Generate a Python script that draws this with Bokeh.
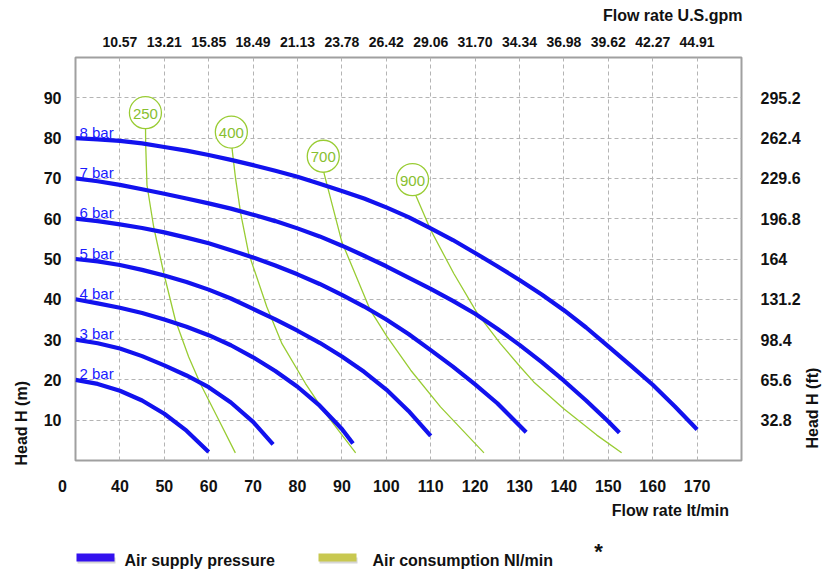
from bokeh.plotting import figure
from bokeh.layouts import column
from bokeh.models import Range1d, LinearAxis, FixedTicker, Label
from bokeh.core.properties import value
from bokeh.embed import file_html
from bokeh.resources import INLINE

# ---------------- data ----------------
flow_ticks = [40, 50, 60, 70, 80, 90, 100, 110, 120, 130, 140, 150, 160, 170]
gpm_labels = ["10.57", "13.21", "15.85", "18.49", "21.13", "23.78", "26.42",
              "29.06", "31.70", "34.34", "36.98", "39.62", "42.27", "44.91"]
head_ticks = [10, 20, 30, 40, 50, 60, 70, 80, 90]
ft_labels = ["32.8", "65.6", "98.4", "131.2", "164", "196.8", "229.6", "262.4", "295.2"]

pressure_names = ["8 bar", "7 bar", "6 bar", "5 bar", "4 bar", "3 bar", "2 bar"]
p8_flow = [30, 35, 40, 45, 50, 55, 60, 65, 70, 75, 80, 85, 90, 95, 100, 105, 110, 115,
           120, 125, 130, 135, 140, 145, 150, 155, 160, 165, 170]
p8_head = [80, 79.7, 79.3, 78.7, 77.8, 76.9, 75.8, 74.6, 73.3, 71.9, 70.4, 68.7, 66.9,
           65.0, 62.8, 60.4, 57.6, 54.7, 51.5, 48.2, 44.8, 41.2, 37.3, 33.0, 28.3, 23.6,
           18.8, 13.4, 7.7]
p7_flow = [30, 35, 40, 45, 50, 55, 60, 65, 70, 75, 80, 85, 90, 95, 100, 105, 110, 115,
           120, 125, 130, 135, 140, 145, 150, 152.5]
p7_head = [70, 69.3, 68.4, 67.3, 66.2, 65.0, 63.8, 62.5, 61.0, 59.4, 57.6, 55.6, 53.3,
           50.8, 48.2, 45.4, 42.6, 39.6, 36.4, 32.7, 28.7, 24.4, 19.8, 14.9, 9.7, 6.9]
p6_flow = [30, 35, 40, 45, 50, 55, 60, 65, 70, 75, 80, 85, 90, 95, 100, 105, 110, 115,
           120, 125, 131.5]
p6_head = [60, 59.4, 58.6, 57.7, 56.6, 55.3, 53.9, 52.2, 50.4, 48.4, 46.2, 43.8, 41.1,
           38.2, 35.0, 31.4, 27.4, 23.3, 18.9, 14.2, 7.0]
p5_flow = [30, 35, 40, 45, 50, 55, 60, 65, 70, 75, 80, 85, 90, 95, 100, 105, 110]
p5_head = [50, 49.4, 48.5, 47.3, 45.9, 44.3, 42.4, 40.2, 37.6, 35.0, 32.2, 29.2, 25.8,
           22.0, 17.6, 12.3, 6.1]
p4_flow = [30, 35, 40, 45, 50, 55, 60, 65, 70, 75, 80, 85, 90, 92.5]
p4_head = [40, 39.0, 37.9, 36.6, 35.0, 33.2, 31.1, 28.6, 25.6, 22.2, 18.3, 13.6, 7.8, 4.2]
p3_flow = [30, 35, 40, 45, 50, 55, 60, 65, 70, 74.5]
p3_head = [30, 29.1, 27.8, 25.9, 23.6, 21.1, 18.2, 14.4, 9.6, 4.0]
p2_flow = [30, 35, 40, 45, 50, 55, 60]
p2_head = [20, 19.0, 17.3, 14.9, 11.6, 7.4, 2.1]

air_names = ["250", "400", "700", "900"]
a250_flow = [45.75, 45.8, 46.1, 47.6, 49.9, 52.5, 55.5, 58.1, 62.3, 66]
a250_head = [86.3, 78.7, 68.3, 58, 46.4, 34.8, 25.7, 19.1, 10, 1.9]
a400_flow = [65.1, 65.3, 66, 67.2, 69, 73.1, 76.5, 81.8, 86.3, 93.1]
a400_head = [81.5, 77, 70.4, 61.3, 51.4, 38.1, 29, 19.1, 11.7, 1.9]
a700_flow = [85.8, 86, 90, 96.4, 100.2, 105.5, 112.2, 122]
a700_head = [75.5, 71.2, 54.2, 37.3, 30.7, 22.4, 13.3, 1.9]
a900_flow = [105.9, 106.6, 110, 115.2, 120.5, 125.7, 130.2, 133.2, 139.9, 147.4, 153]
a900_head = [69.7, 65.9, 57.2, 46.4, 36.5, 29, 23.2, 19.5, 12.9, 6.3, 1.9]

legend_labels = ["Air supply pressure", "Air consumption  Nl/min"]

pressure_series = [(p8_flow, p8_head), (p7_flow, p7_head), (p6_flow, p6_head),
                   (p5_flow, p5_head), (p4_flow, p4_head), (p3_flow, p3_head),
                   (p2_flow, p2_head)]
air_series = [(a250_flow, a250_head), (a400_flow, a400_head),
              (a700_flow, a700_head), (a900_flow, a900_head)]

# ---------------- styles ----------------
FONT = "Liberation Sans"
BLUE = "#1212ee"
BLUE_TXT = "#1a1aff"
GREEN = "#99cc33"
GREEN_TXT = "#88c030"
LEG_BLUE = "#3311ee"
LEG_GREEN = "#c8c850"
TXT = "#111111"

X0, X1 = 30, 180
Y0, Y1 = 0, 100
W = 832
FL, FR = 75, 741  # frame edges in page pixels

p = figure(width=W, height=530, x_range=Range1d(X0, X1), y_range=Range1d(Y0, Y1),
           output_backend="svg", toolbar_location=None,
           min_border_left=FL, min_border_right=W - FR, min_border_top=57,
           min_border_bottom=70)
p.background_fill_color = "white"
p.border_fill_color = "white"
p.outline_line_color = "#a0a0a0"
p.outline_line_width = 2

p.xaxis.ticker = FixedTicker(ticks=flow_ticks)
p.yaxis.ticker = FixedTicker(ticks=head_ticks)
p.xgrid.ticker = FixedTicker(ticks=flow_ticks)
p.ygrid.ticker = FixedTicker(ticks=head_ticks)
for g in (p.xgrid, p.ygrid):
    g.grid_line_color = "#b4b4b4"
    g.grid_line_dash = "4 3"
    g.grid_line_width = 1


def style_axis(ax, size, standoff):
    ax.axis_line_color = None
    ax.major_tick_line_color = None
    ax.minor_tick_line_color = None
    ax.major_tick_out = 0
    ax.major_tick_in = 0
    ax.major_label_text_font = FONT
    ax.major_label_text_font_style = "bold"
    ax.major_label_text_font_size = size
    ax.major_label_text_color = TXT
    ax.major_label_standoff = standoff


style_axis(p.xaxis[0], "16px", 19)
style_axis(p.yaxis[0], "16px", 14)

top_axis = LinearAxis(ticker=FixedTicker(ticks=flow_ticks),
                      major_label_overrides={t: l for t, l in zip(flow_ticks, gpm_labels)})
style_axis(top_axis, "14px", 11)
p.add_layout(top_axis, "above")

right_axis = LinearAxis(ticker=FixedTicker(ticks=head_ticks),
                        major_label_overrides={t: l for t, l in zip(head_ticks, ft_labels)})
style_axis(right_axis, "16px", 19)
p.add_layout(right_axis, "right")

# air consumption curves (under the pressure curves)
for fl, hd in air_series:
    p.line(fl, hd, line_color=GREEN, line_width=1.3)

# pressure curves
for fl, hd in pressure_series:
    p.line(fl, hd, line_color=BLUE, line_width=4.2, line_cap="butt", line_join="round")

p.text(x=[f[0] for f, h in pressure_series], y=[h[0] for f, h in pressure_series],
       text=pressure_names, x_offset=4, y_offset=-6,
       text_font=value(FONT), text_font_size="15px", text_color=BLUE_TXT,
       text_baseline="alphabetic", text_align="left")

# air consumption tags
p.scatter(x=[f[0] for f, h in air_series], y=[h[0] for f, h in air_series],
          size=32, fill_color="white", line_color=GREEN, line_width=1.3)
p.text(x=[f[0] for f, h in air_series], y=[h[0] for f, h in air_series],
       text=air_names, text_font=value(FONT), text_font_size="15px",
       text_color=GREEN_TXT, text_align="center", text_baseline="middle", y_offset=1)


# texts outside the frame: labels placed in the side panels, offset (px) from a frame corner
def side_label(text, place, x, y, dx, dy, size="16px", align="center", angle=0.0):
    p.add_layout(Label(x=x, y=y, x_offset=dx, y_offset=dy, text=text,
                       text_font=FONT, text_font_size=size, text_font_style="bold",
                       text_color=TXT, text_align=align, text_baseline="middle",
                       angle=angle), place)


side_label("Flow rate U.S.gpm", "above", X1, Y1, 1, 42, align="right")
side_label("Flow rate  lt/min", "below", X1, Y0, -8, -50, align="right")
side_label("0", "left", X0, Y0, -13, -25)
side_label("Head H (m)", "left", X0, Y0, -54, -5, align="left", angle=1.5708)
side_label("Head H (ft)", "right", X1, Y0, 71, 12, size="16px", align="left", angle=1.5708)

# ---------------- legend strip (x in page pixels, y in pixels from strip bottom) ----
q = figure(width=W, height=40, x_range=Range1d(FL, FR), y_range=Range1d(0, 40),
           output_backend="svg", toolbar_location=None, x_axis_type=None, y_axis_type=None,
           min_border_left=FL, min_border_right=W - FR, min_border_top=0, min_border_bottom=0)
q.outline_line_color = None
q.grid.visible = False
q.background_fill_color = "white"
q.border_fill_color = "white"

sw_x = [95, 337]
sw_colors = [LEG_BLUE, LEG_GREEN]
q.rect(x=[v + 1 for v in sw_x], y=[10, 10], width=38, height=6,
       fill_color="#bbbbbb", fill_alpha=0.6, line_color=None)
q.rect(x=sw_x, y=[13, 13], width=38, height=8, fill_color=sw_colors, line_color=None)
q.text(x=[124, 372], y=[10, 10], text=legend_labels, text_font=value(FONT),
       text_font_size="16px", text_font_style="bold", text_color=TXT,
       text_align="left", text_baseline="middle")
q.text(x=[598], y=[19], text=["*"], text_font=value(FONT), text_font_size="22px",
       text_font_style="bold", text_color=TXT, text_align="center", text_baseline="middle")

layout = column(p, q, spacing=0)
open("out.html", "w").write(file_html(layout, INLINE))
